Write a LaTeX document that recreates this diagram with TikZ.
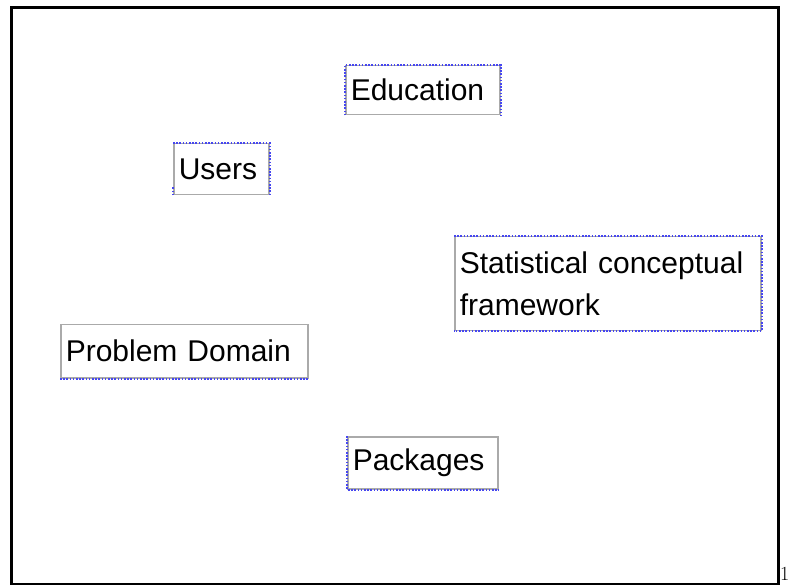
\documentclass[tikz,border=0pt]{standalone}
\usepackage{fontspec}
\setsansfont{Liberation Sans}
\usepackage{tikz}
\usetikzlibrary{positioning}
\definecolor{boxgray}{RGB}{170,170,170}
\definecolor{dotblue}{RGB}{70,70,240}
\begin{document}
\begin{tikzpicture}[x=1pt, y=-1pt,
  topic/.style={draw=boxgray, line width=1.5pt, anchor=north west, align=left, inner xsep=5pt, inner ysep=0pt, font=\sffamily\fontsize{30}{42}\selectfont},
  dotedge/.style={draw=dotblue, line width=2pt, dash pattern=on 1.6pt off 1.6pt}
]
\useasboundingbox (0,0) rectangle (790,585);
\draw[line width=3pt] (11.5,7.5) rectangle (778,584);
\node[topic, text width=144pt, minimum height=49pt] (edu) at (345,65) {Education};
\node[topic, text width=85pt, minimum height=51pt] (users) at (173,143) {Users};
\node[topic, text width=296pt, minimum height=94pt] (stat) at (454,236) {Statistical conceptual\\framework};
\node[topic, text width=237pt, minimum height=53pt] (domain) at (60,324) {Problem Domain};
\node[topic, text width=140pt, minimum height=52pt] (pkg) at (347,436) {Packages};
% dotted sides
\draw[dotedge] (edu.south west) -- (edu.north west) -- (edu.north east) -- (edu.south east);
\draw[dotedge] (users.north west) -- (users.north east) -- (users.south east);
\draw[dotedge] (users.south west) -- ++(0,-8);
\draw[dotedge] (stat.north west) -- (stat.north east) -- (stat.south east) -- (stat.south west);
\draw[dotedge] (domain.south west) -- (domain.south east);
\draw[dotedge] (pkg.north west) -- (pkg.south west) -- (pkg.south east);
\node[anchor=base east, inner xsep=0.5pt, inner ysep=0pt, font=\fontsize{20}{22}\selectfont] (page) at (790,580) {1};
\end{tikzpicture}
\end{document}
